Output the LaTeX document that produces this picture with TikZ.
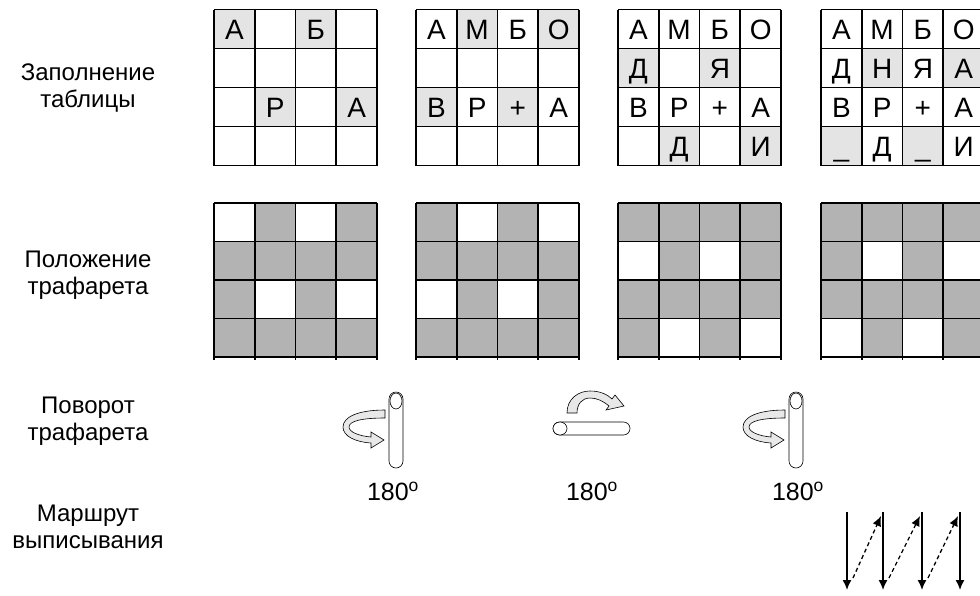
\documentclass[tikz,border=0pt]{standalone}
\usepackage{fontspec}
\setmainfont{Liberation Sans}
\usetikzlibrary{arrows.meta, positioning, calc}
\definecolor{cellfill}{HTML}{E4E4E4}
\definecolor{maskfill}{HTML}{B3B3B3}
% cells shown through the stencil: grid x / column / row
\def\holes{214/0/0, 214/2/0, 214/1/2, 214/3/2,
  416/1/0, 416/3/0, 416/0/2, 416/2/2,
  618/0/1, 618/2/1, 618/1/3, 618/3/3,
  821/1/1, 821/3/1, 821/0/3, 821/2/3}
% upright rod with a side turn arrow
\newcommand{\turnside}[1]{%
  \begin{scope}[shift={(#1,0)}]
    \draw[band] (385,410) .. controls (358,410) and (343,417) .. (343,427)
      .. controls (343,436) and (355,442) .. (371,443) -- (371,448) -- (384,440)
      -- (371,432) -- (371,437) .. controls (359,436) and (349,432) .. (349,427)
      .. controls (349,421) and (362,418) .. (385,418) -- cycle;
    \draw[rod, rounded corners=7pt] (389,392) rectangle (403,468);
    \draw[rod] (396,401) ellipse [x radius=6pt, y radius=8pt];
  \end{scope}}

\begin{document}
\begin{tikzpicture}[x=1pt, y=-1pt,
    rowlabel/.style={font=\fontsize{24}{27}\selectfont, align=center},
    letter/.style={font=\fontsize{28}{30}\selectfont, anchor=base, inner sep=0pt},
    degree/.style={font=\fontsize{25}{28}\selectfont},
    gridline/.style={line width=1.6pt},
    band/.style={draw, line width=0.6pt, fill=gray!18},
    rod/.style={draw, line width=0.6pt, fill=white},
    route/.style={line width=1.5pt, -{Latex[length=10pt,width=9pt]}},
    jump/.style={line width=1.3pt, dash pattern=on 4pt off 3pt, -{Latex[length=10pt,width=9pt]}}]
  \useasboundingbox (0,0) rectangle (980,595);
  \clip (0,0) rectangle (980,595);

  % row labels
  \node[rowlabel] (fill) at (88,88) {Заполнение\\таблицы};
  \node[rowlabel] (mask) at (88,275) {Положение\\трафарета};
  \node[rowlabel] (turn) at (88,421) {Поворот\\трафарета};
  \node[rowlabel] (path) at (88,527) {Маршрут\\выписывания};

  % newly written cells and stencil
  \foreach \gx/\c/\r in \holes
    \fill[cellfill] (\gx+\c*40.75, 9.5+\r*39) rectangle ++(40.75,39);
  \foreach \gx in {214,416,618,821}
    \fill[maskfill] (\gx,203) rectangle ++(163,154);
  \foreach \gx/\c/\r in \holes
    \fill[white] (\gx+\c*40.75, 203+\r*38.5) rectangle ++(40.75,38.5);

  % grid lines
  \foreach \gx in {214,416,618,821}{
    \foreach \i in {0,...,4}{
      \draw[gridline] (\gx+\i*40.75, 9.5) -- ++(0,156);
      \draw[gridline] (\gx, 9.5+\i*39) -- ++(163,0);
      \draw[gridline] (\gx+\i*40.75, 203) -- ++(0,157);
      \draw[gridline] (\gx, 203+\i*38.5) -- ++(163,0);
    }}

  % letters
  \foreach \gx/\c/\r/\t in {214/0/0/А, 214/2/0/Б, 214/1/2/Р, 214/3/2/А,
      416/0/0/А, 416/1/0/М, 416/2/0/Б, 416/3/0/О, 416/0/2/В, 416/1/2/Р, 416/2/2/+, 416/3/2/А,
      618/0/0/А, 618/1/0/М, 618/2/0/Б, 618/3/0/О, 618/0/1/Д, 618/2/1/Я,
      618/0/2/В, 618/1/2/Р, 618/2/2/+, 618/3/2/А, 618/1/3/Д, 618/3/3/И,
      821/0/0/А, 821/1/0/М, 821/2/0/Б, 821/3/0/О, 821/0/1/Д, 821/1/1/Н, 821/2/1/Я, 821/3/1/А,
      821/0/2/В, 821/1/2/Р, 821/2/2/+, 821/3/2/А, 821/0/3/\_, 821/1/3/Д, 821/2/3/\_, 821/3/3/И}
    \node[letter] (t\gx\c\r) at (\gx+\c*40.75+20.4, 9.5+\r*39+29.5) {\t};

  % stencil turns
  \turnside{0}
  \draw[band] (567,413) .. controls (567,399) and (578,391) .. (590,391)
    .. controls (601,391) and (608,395) .. (612,399) -- (615,395) -- (624,406)
    -- (606,410) -- (609,406) .. controls (603,401) and (597,398) .. (590,398)
    .. controls (582,398) and (577,404) .. (577,413) -- cycle;
  \draw[rod, rounded corners=6.5pt] (553,422) rectangle (630,435);
  \draw[rod] (560,428.5) ellipse [x radius=7pt, y radius=6.5pt];
  \turnside{400}

  \node[degree] (deg1) at (393,491) {180\textsuperscript{o}};
  \node[degree] (deg2) at (592,491) {180\textsuperscript{o}};
  \node[degree] (deg3) at (798,491) {180\textsuperscript{o}};

  % reading route
  \foreach \i/\x in {1/847,2/883,3/922,4/960}{
    \coordinate (top\i) at (\x,512);
    \coordinate (bot\i) at (\x,590);
    \draw[route] (top\i) -- (bot\i);
  }
  \foreach \i/\j in {1/2,2/3,3/4}
    \draw[jump] ($(bot\i)+(6,-12)$) -- ($(top\j)+(-2,4)$);
\end{tikzpicture}
\end{document}
